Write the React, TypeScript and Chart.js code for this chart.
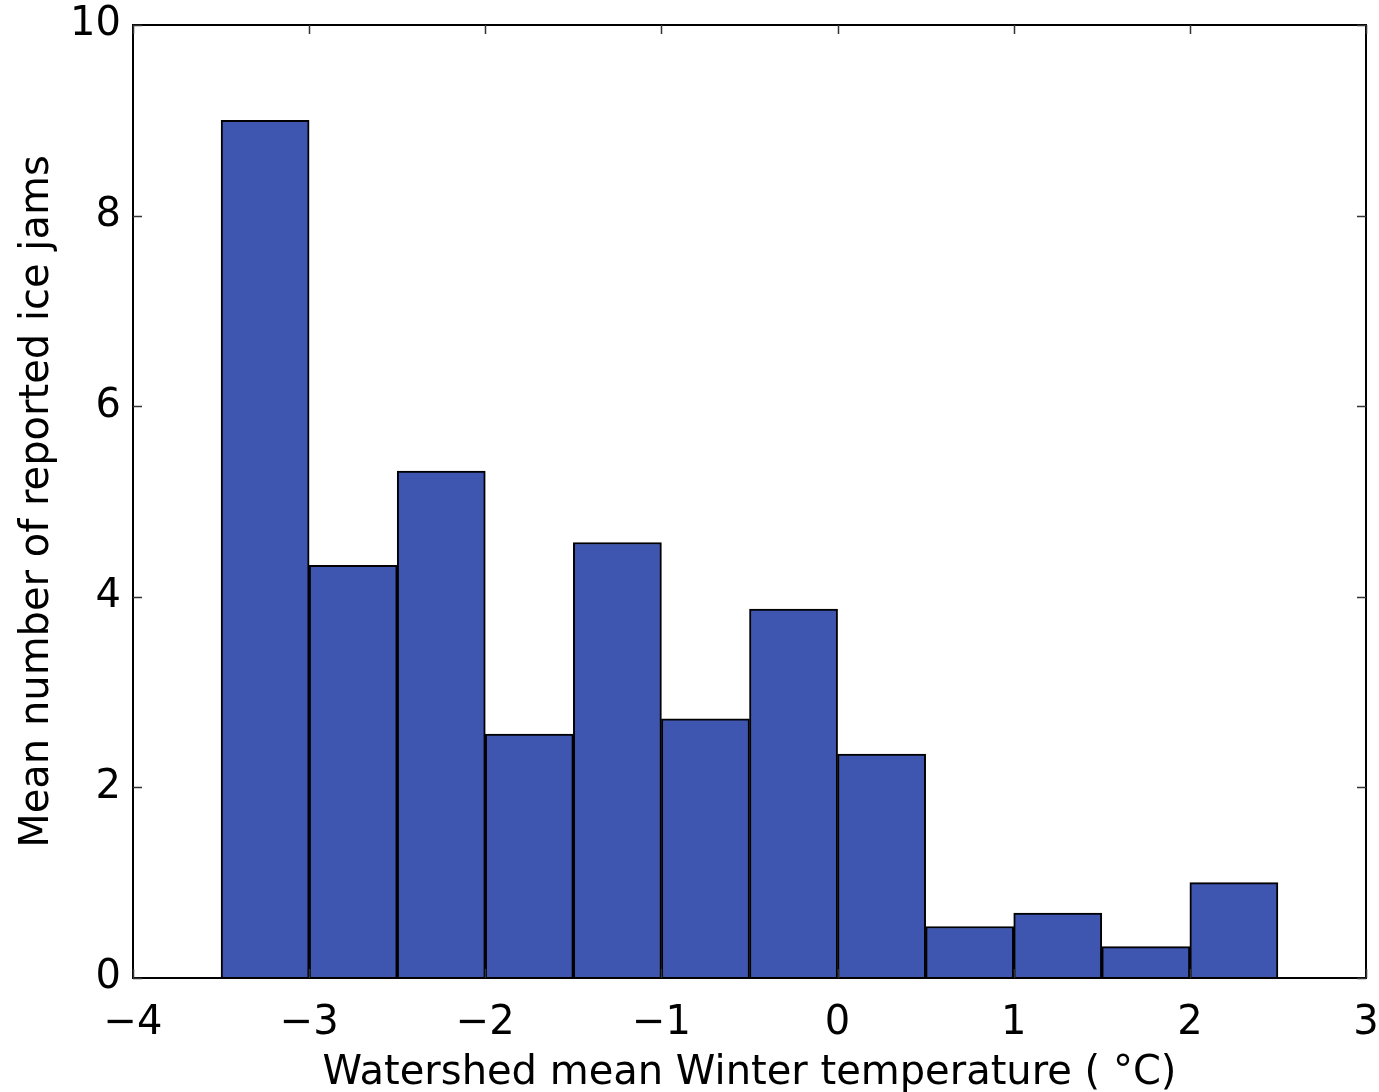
import React, { useEffect, useRef } from "react";
import { Chart, registerables } from "chart.js";

Chart.register(...registerables);

// Histogram bin edges (°C) and mean counts per bin
const binEdges = [-3.5, -3.0, -2.5, -2.0, -1.5, -1.0, -0.5, 0.0, 0.5, 1.0, 1.5, 2.0, 2.5];
const counts = [9.0, 4.33, 5.32, 2.56, 4.57, 2.72, 3.87, 2.35, 0.54, 0.68, 0.33, 1.0];
const xTicks = [-4, -3, -2, -1, 0, 1, 2, 3];
const yTicks = [0, 2, 4, 6, 8, 10];
const xTitle = "Watershed mean Winter temperature ( °C)";
const yTitle = "Mean number of reported ice jams";

const FONT = "'DejaVu Sans', sans-serif";

const frameTicks = {
  id: "frameTicks",
  afterDraw(chart: any) {
    const { ctx, chartArea, scales } = chart;
    const { left, right, top, bottom } = chartArea;
    ctx.save();
    ctx.strokeStyle = "#000";
    ctx.lineWidth = 2;
    ctx.strokeRect(left, top, right - left, bottom - top);
    ctx.lineWidth = 1.5;
    ctx.strokeStyle = "#333";
    const L = 9;
    for (const v of xTicks) {
      const px = Math.round(scales.x.getPixelForValue(v)) + 0.5;
      ctx.beginPath();
      ctx.moveTo(px, bottom);
      ctx.lineTo(px, bottom - L);
      ctx.moveTo(px, top);
      ctx.lineTo(px, top + L);
      ctx.stroke();
    }
    for (const v of yTicks) {
      const py = Math.round(scales.y.getPixelForValue(v)) + 0.5;
      ctx.beginPath();
      ctx.moveTo(left, py);
      ctx.lineTo(left + L, py);
      ctx.moveTo(right, py);
      ctx.lineTo(right - L, py);
      ctx.stroke();
    }
    ctx.restore();
  },
};

export default function App() {
  const ref = useRef<HTMLCanvasElement | null>(null);

  useEffect(() => {
    if (!ref.current) return;
    const data = counts.map((c, i) => ({
      x: (binEdges[i] + binEdges[i + 1]) / 2,
      y: c,
    }));
    const chart = new Chart(ref.current, {
      type: "bar",
      data: {
        datasets: [
          {
            data,
            backgroundColor: "rgb(62,86,176)",
            borderColor: "#000",
            borderWidth: 2,
            barPercentage: 1,
            categoryPercentage: 1,
            grouped: false,
          } as any,
        ],
      },
      options: {
        animation: false,
        responsive: false,
        layout: { padding: { left: 14, right: 13, top: 25, bottom: 0 } },
        plugins: { legend: { display: false }, tooltip: { enabled: false } },
        scales: {
          x: {
            type: "linear",
            min: -4,
            max: 3,
            offset: false,
            grid: { display: false, offset: false },
            border: { display: false },
            afterBuildTicks: (s: any) => {
              s.ticks = xTicks.map((v) => ({ value: v }));
            },
            afterFit: (s: any) => {
              s.height = 114;
              s.paddingLeft = 0;
              s.paddingRight = 0;
            },
            ticks: {
              color: "#000",
              padding: 14,
              font: { family: FONT, size: 40 },
              callback: (v: any) => String(v).replace("-", "\u2212"),
            },
            title: {
              display: true,
              text: xTitle,
              color: "#000",
              font: { family: FONT, size: 40 },
              padding: { top: 0, bottom: -6 },
            },
          },
          y: {
            type: "linear",
            min: 0,
            max: 10,
            grid: { display: false },
            border: { display: false },
            afterBuildTicks: (s: any) => {
              s.ticks = yTicks.map((v) => ({ value: v }));
            },
            afterFit: (s: any) => {
              s.width = 119;
              s.paddingTop = 0;
              s.paddingBottom = 0;
            },
            ticks: {
              color: "#000",
              padding: 4,
              font: { family: FONT, size: 40 },
            },
            title: {
              display: true,
              text: yTitle,
              color: "#000",
              font: { family: FONT, size: 40 },
              padding: { top: 0, bottom: 0 },
            },
          },
        },
      },
      plugins: [frameTicks],
    });
    return () => chart.destroy();
  }, []);

  return (
    <div style={{ position: "absolute", left: 0, top: 0, width: 1379, height: 1092, background: "#fff" }}>
      <canvas ref={ref} width={1379} height={1092} style={{ width: 1379, height: 1092 }} />
    </div>
  );
}
